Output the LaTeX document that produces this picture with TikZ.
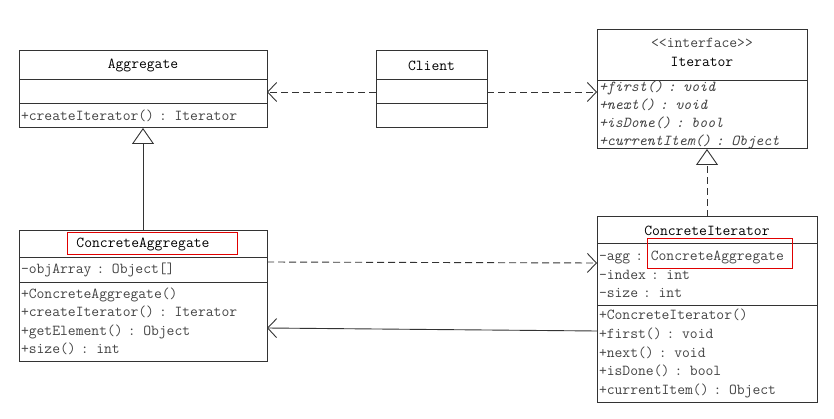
\documentclass[tikz,border=0pt]{standalone}
\usetikzlibrary{arrows.meta,positioning}
\definecolor{linegray}{HTML}{333333}
\definecolor{membgray}{HTML}{444444}
\definecolor{markred}{HTML}{E00000}
\tikzset{
  cls/.style={draw=linegray, line width=1pt, outer sep=0pt, inner xsep=2pt,
    inner ysep=0pt, anchor=north west},
  clsname/.style={cls, align=center, text=black},
  clspart/.style={cls, align=left, text=membgray},
  dep/.style={dashed, dash pattern=on 7pt off 4pt, line width=0.9pt, draw=linegray,
    -{Straight Barb[length=9pt,width=19pt]}},
  assoc/.style={line width=0.9pt, draw=linegray, -{Straight Barb[length=9pt,width=19pt]}},
  inherit/.style={line width=0.9pt, draw=linegray,
    -{Triangle[open,length=16pt,width=22pt,fill=white]}},
  realize/.style={inherit, dashed, dash pattern=on 7pt off 4pt},
  markbox/.style={draw=markred, line width=1pt}
}
\begin{document}
\begin{tikzpicture}[x=1pt, y=-1pt,
    font=\fontsize{15.2}{18.5}\selectfont\ttfamily]
  \useasboundingbox (0,0) rectangle (834,419);

  % Aggregate
  \node[clsname, minimum width=248, minimum height=29] (aggname) at (19,51) {Aggregate};
  \node[clspart, minimum width=248, minimum height=24, below=0pt of aggname] (aggattr) {};
  \node[clspart, text width=244, minimum height=24, below=0pt of aggattr] (aggop)
    {+createIterator() : Iterator};

  % Client
  \node[clsname, minimum width=111, minimum height=29] (cliname) at (376,51) {Client};
  \node[clspart, minimum width=111, minimum height=24, below=0pt of cliname] (cliattr) {};
  \node[clspart, minimum width=111, minimum height=24, below=0pt of cliattr] (cliop) {};

  % Iterator
  \node[clsname, minimum width=210, minimum height=51] (itername) at (597,30)
    {\textcolor{membgray}{{<}{<}interface{>}{>}}\\Iterator\\[-12pt]{}};
  \node[clspart, text width=206, minimum height=68, below=0pt of itername,
    font=\fontsize{15.2}{17.8}\selectfont\ttfamily\itshape] (iterop)
    {+first() : void\\+next() : void\\+isDone() : bool\\+currentItem() : Object};

  % ConcreteAggregate
  \node[clsname, minimum width=248, minimum height=27] (caname) at (19,231) {ConcreteAggregate};
  \node[clspart, text width=244, minimum height=24, below=0pt of caname] (caattr)
    {-objArray : Object[]};
  \node[clspart, text width=244, minimum height=79, below=0pt of caattr] (caop)
    {+ConcreteAggregate()\\+createIterator() : Iterator\\+getElement() : Object\\+size() : int};

  % ConcreteIterator
  \node[clsname, minimum width=220, minimum height=27] (ciname) at (597,217) {ConcreteIterator};
  \node[clspart, text width=216, minimum height=61, below=0pt of ciname] (ciattr)
    {-agg : ConcreteAggregate\\-index : int\\-size : int};
  \node[clspart, text width=216, minimum height=97, below=0pt of ciattr,
    font=\fontsize{15.2}{18.75}\selectfont\ttfamily] (ciop)
    {+ConcreteIterator()\\+first() : void\\+next() : void\\+isDone() : bool\\+currentItem() : Object};

  % Relations
  \draw[dep] (cliattr.west) -- (aggattr.east);
  \draw[dep] (cliattr.east) -- (cliattr.east -| iterop.west);
  \draw[inherit] (caname.north) -- (aggop.south);
  \draw[realize] (ciname.north) -- (ciname.north |- iterop.south);
  \draw[dep] ([yshift=8pt]caattr.east) -- ([yshift=11.5pt]ciattr.west);
  \draw[assoc] ([yshift=22.5pt]ciop.west) -- ([yshift=-6.5pt]caop.east);

  % Marks
  \draw[markbox] (67,233) rectangle (237,255);
  \draw[markbox] (647,239) rectangle (792,269);
\end{tikzpicture}
\end{document}
